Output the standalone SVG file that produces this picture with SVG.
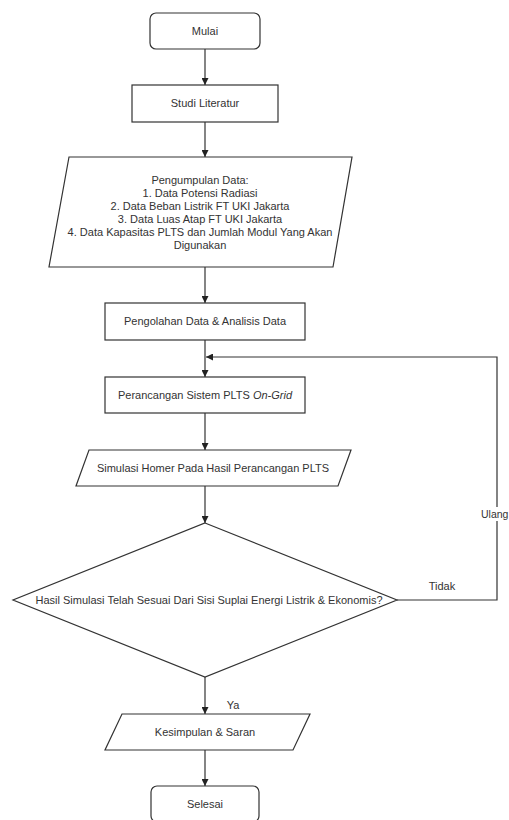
<svg xmlns="http://www.w3.org/2000/svg" width="509" height="820" viewBox="0 0 509 820">
<style>
.s{fill:#fff;stroke:#333;stroke-width:1.2}
.t{font-family:"Liberation Sans",Arial,sans-serif;font-size:11px;fill:#333;text-anchor:middle}
.c{fill:none;stroke:#333;stroke-width:1.2}
</style>
<defs>
<marker id="a" viewBox="0 0 10 10" refX="10" refY="5" markerWidth="7" markerHeight="7" orient="auto" markerUnits="userSpaceOnUse">
<path d="M0,0 L10,5 L0,10 Z" fill="#222"/>
</marker>
</defs>
<rect width="509" height="820" fill="#fff"/>
<g id="connectors">
<path class="c" d="M205,49 V85" marker-end="url(#a)"/>
<path class="c" d="M205,122 V157" marker-end="url(#a)"/>
<path class="c" d="M205,267 V303" marker-end="url(#a)"/>
<path class="c" d="M205,340 V377" marker-end="url(#a)"/>
<path class="c" d="M205,413 V450" marker-end="url(#a)"/>
<path class="c" d="M205,486 V523" marker-end="url(#a)"/>
<path class="c" d="M397,600 H497 V357 H206" marker-end="url(#a)"/>
<path class="c" d="M205,677 V714" marker-end="url(#a)"/>
<path class="c" d="M205,750 V786" marker-end="url(#a)"/>
<rect x="481" y="507" width="28" height="14" fill="#fff"/>
<text class="t" x="481" y="518" style="text-anchor:start;font-size:10.5px">Ulang</text>
<text class="t" x="442" y="590">Tidak</text>
<text class="t" x="233" y="709">Ya</text>
</g>
<g id="mulai">
<rect class="s" x="150" y="13" width="110" height="36" rx="6"/>
<text class="t" x="205" y="35">Mulai</text>
</g>
<g id="studi">
<rect class="s" x="132" y="85" width="146" height="37"/>
<text class="t" x="205" y="107">Studi Literatur</text>
</g>
<g id="pengumpulan">
<polygon class="s" points="69,157 352,157 333,267 49,267"/>
<text class="t" x="200" y="184">Pengumpulan Data:</text>
<text class="t" x="200" y="197">1. Data Potensi Radiasi</text>
<text class="t" x="200" y="210">2. Data Beban Listrik FT UKI Jakarta</text>
<text class="t" x="200" y="223">3. Data Luas Atap FT UKI Jakarta</text>
<text class="t" x="200" y="236">4. Data Kapasitas PLTS dan Jumlah Modul Yang Akan</text>
<text class="t" x="200" y="249">Digunakan</text>
</g>
<g id="pengolahan">
<rect class="s" x="105" y="303" width="200" height="37"/>
<text class="t" x="205" y="325">Pengolahan Data &amp; Analisis Data</text>
</g>
<g id="perancangan">
<rect class="s" x="105" y="377" width="200" height="36"/>
<text class="t" x="205" y="399">Perancangan Sistem PLTS <tspan font-style="italic">On-Grid</tspan></text>
</g>
<g id="simulasi">
<polygon class="s" points="89,450 351,450 338,486 76,486"/>
<text class="t" x="213" y="472">Simulasi Homer Pada Hasil Perancangan PLTS</text>
</g>
<g id="keputusan">
<polygon class="s" points="205,523 397,600 205,677 13,600"/>
<text class="t" x="209" y="604">Hasil Simulasi Telah Sesuai Dari Sisi Suplai Energi Listrik &amp; Ekonomis?</text>
</g>
<g id="kesimpulan">
<polygon class="s" points="122,714 310,714 293,750 105,750"/>
<text class="t" x="205" y="736">Kesimpulan &amp; Saran</text>
</g>
<g id="selesai">
<rect class="s" x="151" y="786" width="108" height="36" rx="6"/>
<text class="t" x="205" y="808">Selesai</text>
</g>
</svg>
